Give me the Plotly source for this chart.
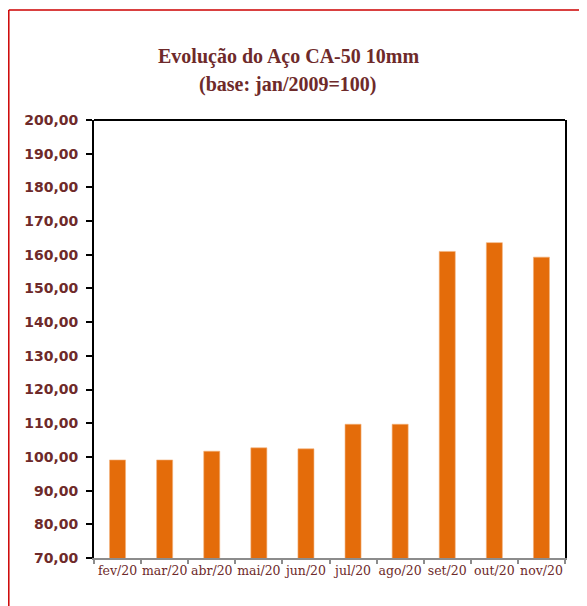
import plotly.graph_objects as go

categories = ["fev/20", "mar/20", "abr/20", "mai/20", "jun/20", "jul/20", "ago/20", "set/20", "out/20", "nov/20"]
values = [99.1, 99.1, 101.7, 102.7, 102.4, 109.7, 109.7, 161.0, 163.6, 159.3]
y_ticks = [70, 80, 90, 100, 110, 120, 130, 140, 150, 160, 170, 180, 190, 200]
y_tick_labels = [f"{v},00" for v in y_ticks]

# the page body has an 8px margin, so the figure is drawn 8px smaller and offset
OFF = 8
W, H = 587 - OFF, 606 - OFF
L, R, T, B = 94 - OFF, 22, 120 - OFF, 48
PW, PH = W - L - R, H - T - B
dark = "#6E2A2A"

fig = go.Figure()
fig.add_trace(go.Bar(
    x=categories, y=values,
    marker=dict(color="#E46C0A", line=dict(color="#F3B27A", width=0.6)),
    width=0.34,
))

fig.update_layout(
    width=W, height=H,
    margin=dict(l=L, r=R, t=T, b=B, autoexpand=False),
    paper_bgcolor="white", plot_bgcolor="white",
    showlegend=False,
    xaxis=dict(
        type="category", automargin=False, tickangle=0,
        showline=True, linecolor="#8C8C8C", linewidth=2,
        ticks="outside", tickson="boundaries", ticklen=4, tickcolor="#8C8C8C", tickwidth=1.5,
        tickfont=dict(family="DejaVu Serif", size=12.5, color=dark),
        showgrid=False, zeroline=False,
    ),
    yaxis=dict(
        range=[70, 200], automargin=False,
        tickvals=y_ticks, ticktext=y_tick_labels,
        showline=True, linecolor="black", linewidth=2, mirror=True,
        ticks="outside", ticklen=6, tickcolor="black", tickwidth=1.5,
        ticklabelstandoff=5,
        tickfont=dict(family="DejaVu Sans", size=14, color=dark, weight="bold"),
        showgrid=False, zeroline=False,
    ),
)

# top border of plot frame
fig.add_shape(type="line", xref="paper", yref="paper", x0=0, x1=1, y0=1, y1=1,
              line=dict(color="black", width=2))

# red outer frame: left and top edges only
fx0 = (0.8 - L) / PW
fy1 = 1 + (T - (10 - OFF)) / PH
fig.add_shape(type="line", xref="paper", yref="paper",
              x0=fx0, x1=(W + 5 - L) / PW, y0=fy1, y1=fy1,
              line=dict(color="#CC0000", width=1.5), layer="below")
fig.add_shape(type="line", xref="paper", yref="paper",
              x0=fx0, x1=fx0, y0=-0.5, y1=fy1,
              line=dict(color="#CC0000", width=1.5), layer="below")

title_x = (288 - OFF - L) / PW
fig.add_annotation(
    xref="paper", yref="paper", x=title_x, y=1 + (T - (43 - OFF)) / PH,
    text="<b>Evolução do Aço CA-50 10mm</b>", showarrow=False,
    font=dict(family="Liberation Serif", size=20, color=dark),
)
fig.add_annotation(
    xref="paper", yref="paper", x=title_x, y=1 + (T - (71 - OFF)) / PH,
    text="<b>(base: jan/2009=100)</b>", showarrow=False,
    font=dict(family="Liberation Serif", size=20, color=dark),
)

fig.write_html("out.html")
